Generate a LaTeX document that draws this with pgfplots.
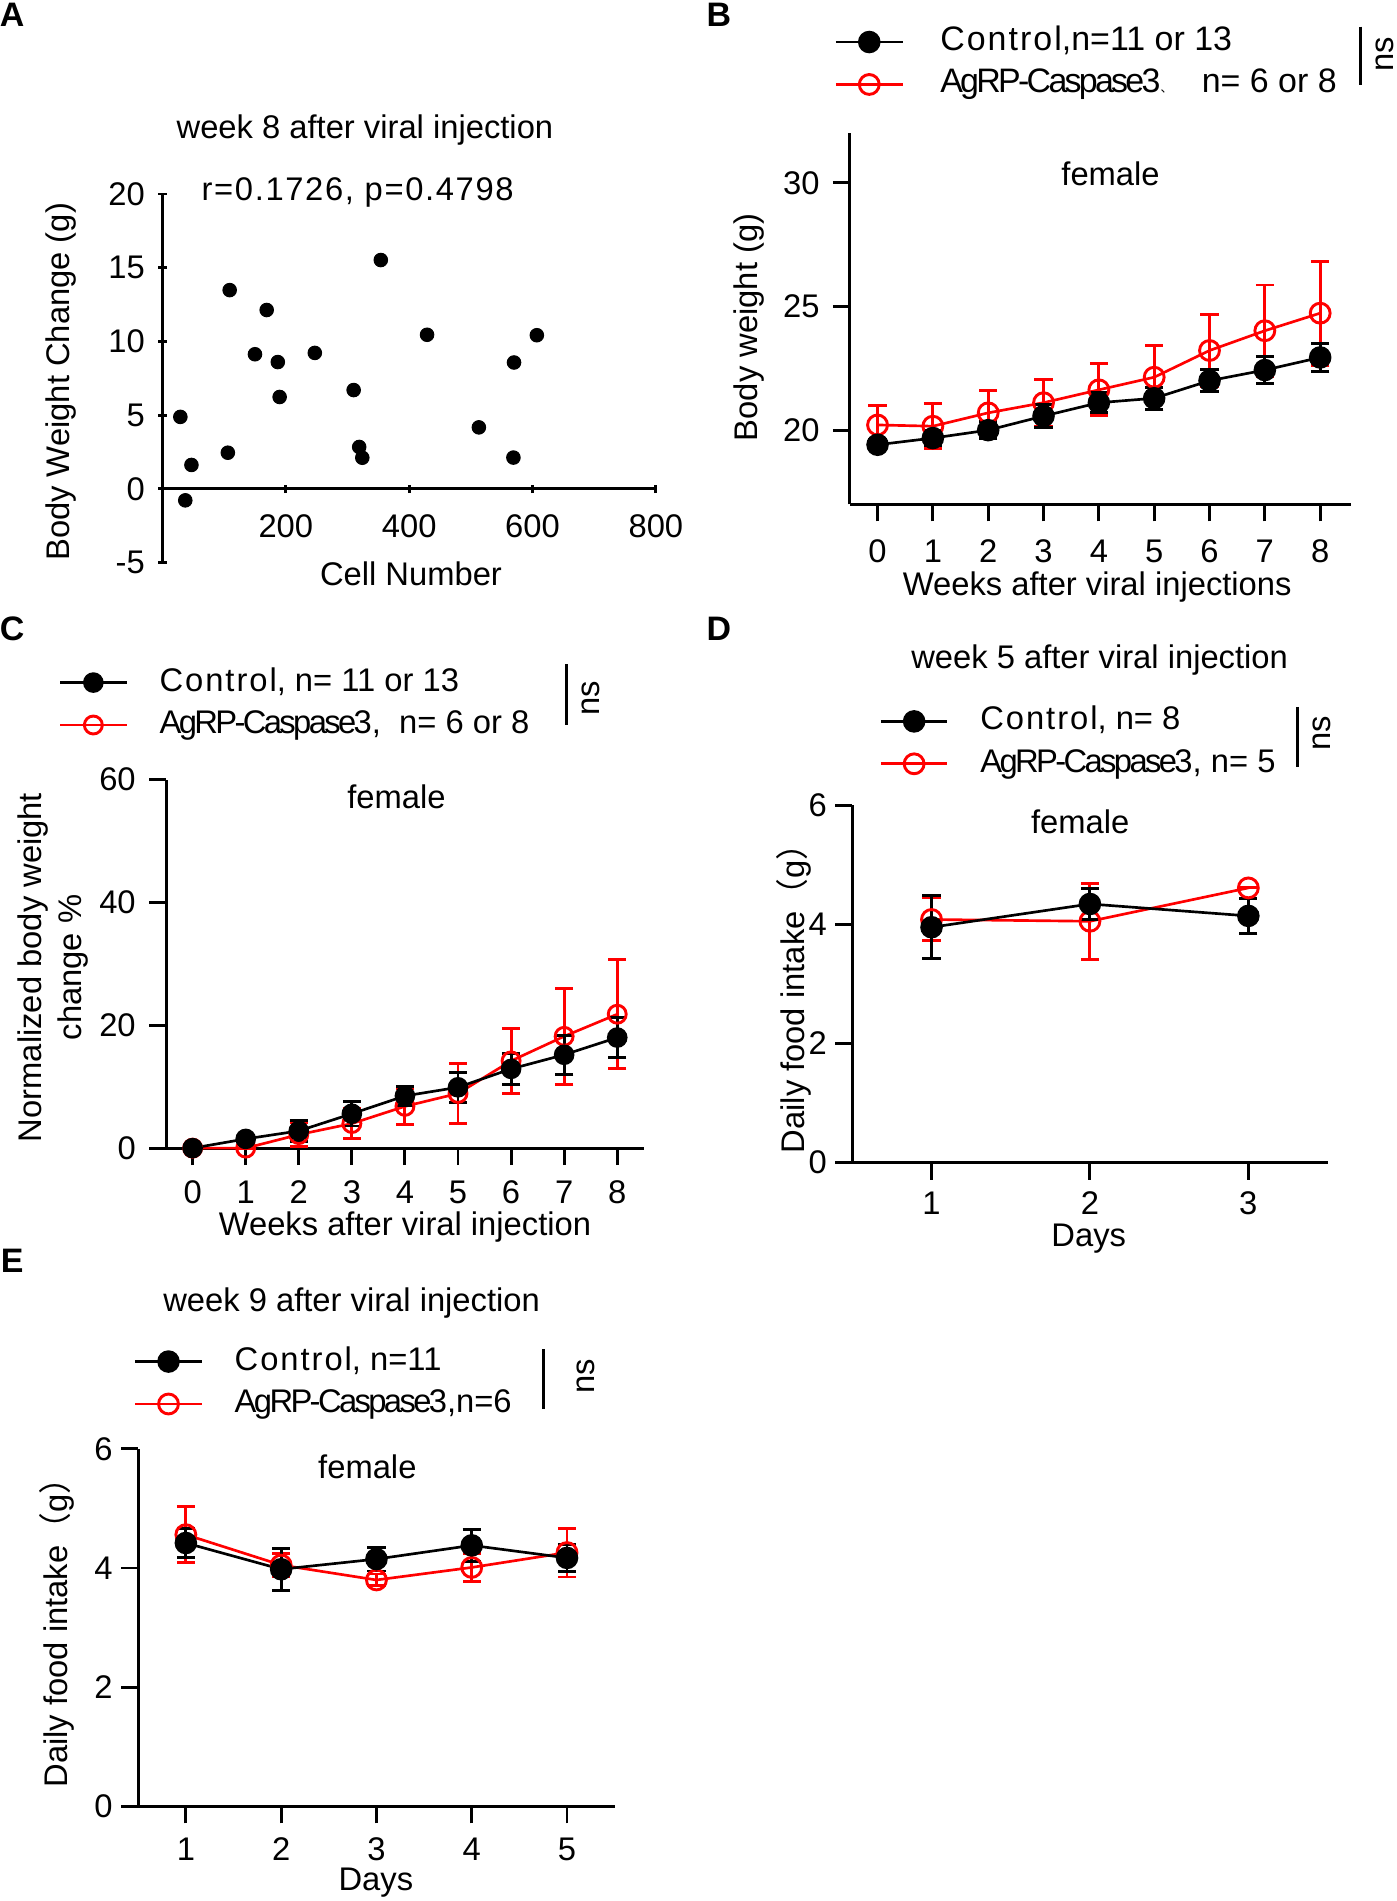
\documentclass[border=0pt]{standalone}
\usepackage{pgfplots}
\usepackage{pgfplotstable}
\pgfplotsset{compat=1.18}
\usepackage{fontspec}
\setmainfont{Liberation Sans}
\newfontfamily\cjk{Noto Sans CJK SC}
\newcommand\fs{\fontsize{13.5}{16.5}\selectfont}
\newcommand\ctl{{\addfontfeature{LetterSpace=6}Control}}
\newcommand\agrp{{\addfontfeature{LetterSpace=-8}AgRP-Caspase3}}

\pgfplotstableread{
x y
29 4.88
37 -0.78
47 1.62
106 2.45
109 13.48
150 9.13
169 12.13
187 8.6
190 6.23
247 9.22
310 6.7
319 2.84
324 2.11
354 15.52
429 10.45
513 4.17
570 8.57
569 2.12
607 10.42
}\dataA

\pgfplotstableread{
x y e
0 19.41 0.2
1 19.68 0.3
2 20.00 0.35
3 20.57 0.45
4 21.11 0.4
5 21.29 0.45
6 22.00 0.45
7 22.43 0.55
8 22.94 0.57
}\Bctl
\pgfplotstableread{
x y e
0 20.21 0.8
1 20.16 0.9
2 20.70 0.9
3 21.11 0.95
4 21.63 1.05
5 22.14 1.3
6 23.22 1.45
7 24.02 1.85
8 24.73 2.1
}\Bagrp

\pgfplotstableread{
x y e
0 0 0
1 1.5 0.5
2 2.8 1.7
3 5.6 2.0
4 8.5 1.5
5 9.9 2.4
6 12.9 2.5
7 15.2 3.2
8 18.0 3.3
}\Cctl
\pgfplotstableread{
x y e
0 0 0
1 0 0
2 2.2 2.0
3 4.0 2.5
4 6.8 2.9
5 8.9 4.9
6 14.2 5.3
7 18.2 7.8
8 21.8 8.9
}\Cagrp

\pgfplotstableread{
x y e
1 3.95 0.53
2 4.34 0.26
3 4.14 0.29
}\Dctl
\pgfplotstableread{
x y e
1 4.08 0.36
2 4.05 0.64
3 4.61 0
}\Dagrp

\pgfplotstableread{
x y e
1 4.42 0.25
2 3.98 0.35
3 4.15 0.2
4 4.38 0.27
5 4.17 0.23
}\Ectl
\pgfplotstableread{
x y e
1 4.56 0.47
2 4.05 0.2
3 3.80 0.1
4 4.01 0.23
5 4.26 0.41
}\Eagrp

\pgfplotsset{
 gp/.style={
  scale only axis, clip=false,
  axis lines=left,
  axis line style={line width=1.2pt,-},
  every tick/.style={line width=1.2pt,black},
  tick align=outside,
  major tick length=7pt,
  tick label style={font=\fs},
  /pgf/number format/assume math mode=true,
  legend cell align=left,
  legend style={draw=none, fill=none, inner sep=0pt, row sep=4.5pt, column sep=13pt,
    nodes={inner sep=0pt, text height=10pt, text depth=3pt, font=\fs}},
  legend image code/.code={\draw[##1, mark repeat=2, mark phase=2] plot coordinates {(0pt,0pt) (13.75pt,0pt) (27.5pt,0pt)};},
  reverse legend,
 },
 sctl/.style={black, line width=1.1pt, mark=*, mark size=#1, mark options={solid, fill=black},
   error bars/.cd, y dir=both, y explicit, error bar style={line width=1.2pt, black},
   error mark options={rotate=90, mark size=3.75pt, line width=1.2pt, black}},
 sagrp/.style={red, line width=1.1pt, mark=o, mark size=#1, mark options={solid, line width=1.2pt},
   error bars/.cd, y dir=both, y explicit, error bar style={line width=1.2pt, red},
   error mark options={rotate=90, mark size=3.75pt, line width=1.2pt, red}},
}

\begin{document}
\begin{tikzpicture}
\useasboundingbox (0,0) rectangle (576pt,-784pt);

% ---------- A ----------
\begin{axis}[gp, at={(67pt,-232pt)}, anchor=south west, width=203.5pt, height=152pt,
  xmin=0, xmax=800, ymin=-5, ymax=20,
  axis x line=middle, axis y line=left,
  axis line style={line width=1.2pt,-},
  x axis line style={-}, y axis line style={-},
  every inner x axis line/.append style={-},
  every outer y axis line/.append style={-},
  major tick length=3.5pt,
  xticklabel style={yshift=-5.5pt},
  yticklabel style={xshift=-2pt},
  xtick={200,400,600,800}, ytick={-5,0,5,10,15,20}]
\addplot[only marks, mark=*, mark size=2.8pt, black] table[x=x,y=y]{\dataA};
\end{axis}

% ---------- B ----------
\begin{axis}[gp, at={(350.5pt,-208pt)}, anchor=south west, width=206.5pt, height=153pt,
  xmin=-0.5, xmax=8.55, ymin=17, ymax=32,
  xtick={0,...,8}, ytick={20,25,30},
  xticklabel style={yshift=-4pt},
  yticklabel style={xshift=-2pt},
  legend style={at={(axis description cs:-0.0315,1.189)}, anchor=west, column sep=15pt,
    nodes={font=\fontsize{14}{16.5}\selectfont}}]
\addplot[sagrp=4.1pt] table[x=x,y=y,y error=e]{\Bagrp};
\addlegendentry{\agrp{\cjk\fontsize{5}{5}\selectfont 、}\hspace{12pt}n= 6 or 8}
\addplot[sctl=4.1pt] table[x=x,y=y,y error=e]{\Bctl};
\addlegendentry{\ctl,n=11 or 13}
\end{axis}

% ---------- C ----------
\begin{axis}[gp, at={(68.5pt,-473.5pt)}, anchor=south west, width=197pt, height=152pt,
  xmin=-0.5, xmax=8.5, ymin=0, ymax=60,
  xtick={0,...,8}, ytick={0,20,40,60},
  xticklabel style={yshift=-3pt},
  yticklabel style={xshift=-2pt},
  legend style={at={(axis description cs:-0.2259,1.2056)}, anchor=west}]
\addplot[sagrp=3.7pt] table[x=x,y=y,y error=e]{\Cagrp};
\addlegendentry{\agrp,\hspace{7.5pt}n= 6 or 8}
\addplot[sctl=3.7pt] table[x=x,y=y,y error=e]{\Cctl};
\addlegendentry{\ctl, n= 11 or 13}
\end{axis}

% ---------- D ----------
\begin{axis}[gp, at={(351.5pt,-479.5pt)}, anchor=south west, width=196pt, height=147.5pt,
  xmin=0.5, xmax=3.5, ymin=0, ymax=6,
  xtick={1,2,3}, ytick={0,2,4,6},
  xticklabel style={yshift=-1.5pt},
  legend style={at={(axis description cs:0.0561,1.1746)}, anchor=west}]
\addplot[sagrp=4.1pt] table[x=x,y=y,y error=e]{\Dagrp};
\addlegendentry{\agrp, n= 5}
\addplot[sctl=4.1pt] table[x=x,y=y,y error=e]{\Dctl};
\addlegendentry{\ctl, n= 8}
\end{axis}

% ---------- E ----------
\begin{axis}[gp, at={(57pt,-745pt)}, anchor=south west, width=196.5pt, height=147.5pt,
  xmin=0.5, xmax=5.5, ymin=0, ymax=6,
  xtick={1,...,5}, ytick={0,2,4,6},
  xticklabel style={yshift=-2.5pt},
  legend style={at={(axis description cs:-0.0102,1.1847)}, anchor=west}]
\addplot[sagrp=4.1pt] table[x=x,y=y,y error=e]{\Eagrp};
\addlegendentry{\agrp,n=6}
\addplot[sctl=4.1pt] table[x=x,y=y,y error=e]{\Ectl};
\addlegendentry{\ctl, n=11}
\end{axis}

% ---------- texts ----------
\begin{scope}[x=0.5pt, y=-0.5pt, every node/.style={font=\fs, inner sep=0pt}]
\node[font=\fontsize{14}{14}\bfseries\selectfont] at (10,12) {A};
\node[font=\fontsize{14}{14}\bfseries\selectfont] at (593,12) {B};
\node[font=\fontsize{14}{14}\bfseries\selectfont] at (10,519) {C};
\node[font=\fontsize{14}{14}\bfseries\selectfont] at (593,519) {D};
\node[font=\fontsize{14}{14}\bfseries\selectfont] at (10,1040) {E};

% A
\node at (301,107) {week 8 after viral injection};
\node at (295,159) {\addfontfeature{LetterSpace=5}r=0.1726, p=0.4798};
\node[rotate=90] at (50,315) {Body Weight Change (g)};
\node at (339,473) {Cell Number};

% B
\node at (916,143) {female};
\node[rotate=90] at (618,270) {Body weight (g)};
\node at (905,484) {Weeks after viral injections};
\draw[line width=1.2pt] (1122,22) -- (1122,70);
\node[rotate=90] at (1142,45) {ns};

% C
\node at (327,657) {female};
\node[rotate=90, align=center] at (43.5,798) {Normalized body weight\\change \%};
\node at (334,1012) {Weeks after viral injection};
\draw[line width=1.2pt] (467,548) -- (467,598);
\node[rotate=90] at (487,576) {ns};

% D
\node at (907,544) {week 5 after viral injection};
\node at (891,678) {female};
\node[rotate=90] at (655,817) {Daily food intake{\cjk （}g{\cjk ）}};
\node at (898,1022) {Days};
\draw[line width=1.2pt] (1070,583) -- (1070,633);
\node[rotate=90] at (1090,605) {ns};

% E
\node at (290,1075) {week 9 after viral injection};
\node at (303,1210) {female};
\node[rotate=90] at (47,1340) {Daily food intake{\cjk （}g{\cjk ）}};
\node at (310,1553) {Days};
\draw[line width=1.2pt] (448,1113) -- (448,1162);
\node[rotate=90] at (483,1135) {ns};
\end{scope}
\end{tikzpicture}
\end{document}
